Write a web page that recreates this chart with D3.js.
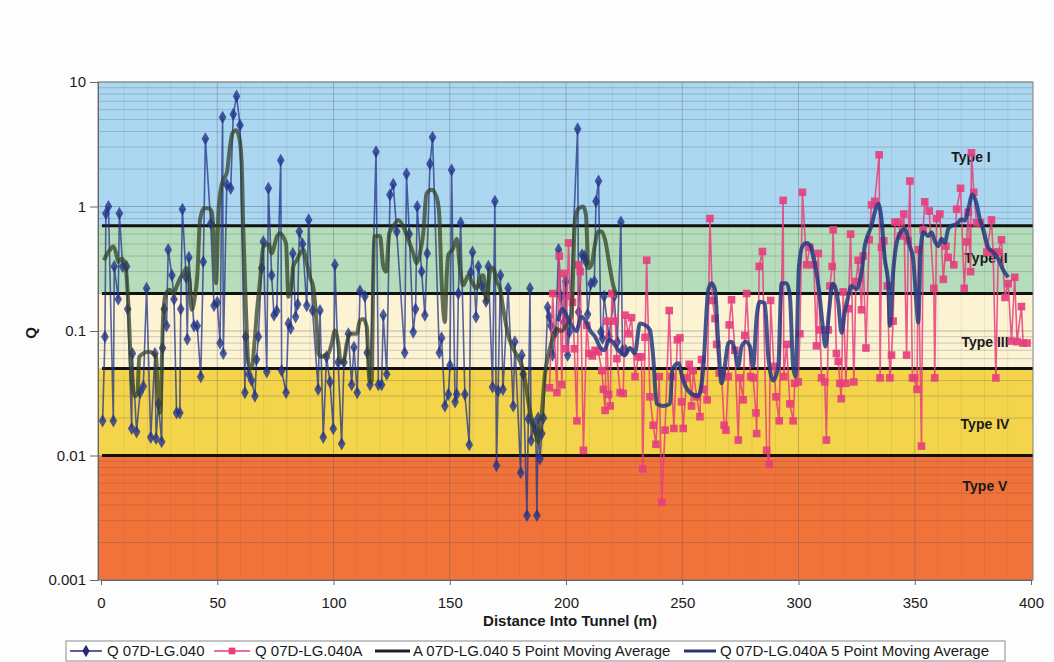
<!DOCTYPE html>
<html lang="en">
<head>
<meta charset="UTF-8">
<title>Q vs Distance Into Tunnel</title>
<script src="https://d3js.org/d3.v7.min.js"></script>
<style>
  body { margin: 0; background: #fdfdfd; }
  svg text { font-family: Arial, "Liberation Sans", sans-serif; fill: #1a1a1a; }
</style>
</head>
<body>
<script>
// [distance (m), Q]
var q040 = [[0.7,0.019],[1.7,0.09],[2.1,0.88],[3.2,1.0],[5.3,0.019],[5.7,0.33],[7.4,0.18],[7.9,0.88],[9.3,0.33],[11,0.33],[11.5,0.15],[13.2,0.0165],[13.5,0.066],[15.3,0.0155],[16.8,0.032],[18.2,0.036],[19.6,0.22],[21.4,0.014],[23.2,0.066],[23.7,0.0137],[24.7,0.026],[26.1,0.0129],[26.5,0.073],[27.2,0.15],[28.2,0.11],[28.9,0.45],[30.5,0.28],[31.4,0.18],[32.5,0.022],[33.9,0.022],[34.3,0.15],[35,0.95],[36.6,0.27],[37.1,0.086],[37.8,0.39],[40,0.11],[41.4,0.11],[42.9,0.043],[44,0.36],[44.9,3.5],[47.2,0.73],[48.6,0.16],[50,0.17],[51.2,0.08],[52.3,5.2],[52.6,0.066],[54.1,1.5],[55.8,1.4],[56.9,5.5],[58.3,7.7],[59.8,4.5],[61.9,0.032],[62.2,0.09],[63.6,0.045],[64.8,0.04],[66.2,0.03],[66.9,0.059],[67.7,0.09],[69.1,0.32],[69.8,0.52],[71.3,0.047],[72,1.4],[73.4,0.28],[74.4,0.134],[75.6,0.145],[77.3,2.35],[77.7,0.048],[79.6,0.032],[80.6,0.115],[81.6,0.105],[82.5,0.42],[83.7,0.13],[84.6,0.164],[85.3,0.63],[86.7,0.5],[88.5,0.16],[89.3,0.78],[91,0.146],[93.4,0.034],[94.2,0.146],[95.6,0.014],[97,0.062],[98.5,0.039],[99.9,0.0164],[100.6,0.34],[102,0.056],[103.5,0.0124],[104.5,0.056],[106.4,0.095],[107.8,0.037],[108.8,0.074],[110.2,0.032],[111.4,0.21],[113.5,0.19],[114.5,0.067],[115.7,0.037],[118.3,2.75],[119.3,0.037],[120.7,0.037],[121.4,0.134],[122.9,0.045],[124.3,1.24],[125.7,1.51],[127.2,0.63],[130.6,0.067],[131.4,1.83],[132.6,0.6],[134.3,0.098],[135.3,0.15],[136,1.0],[137.9,0.3],[139.3,0.134],[140.3,0.42],[141.5,2.2],[142.6,3.6],[145.5,0.067],[146.5,0.088],[147.9,0.025],[149.4,0.031],[150.1,0.053],[150.8,1.96],[152.3,0.027],[153,0.031],[153.7,0.2],[154.7,0.74],[156.5,0.031],[158.4,0.0122],[159,0.295],[159.8,0.43],[161.3,0.13],[162.3,0.33],[163.7,0.23],[165.6,0.173],[166.6,0.33],[168.4,0.0355],[169.4,1.1],[170.1,0.0083],[170.8,0.033],[171.8,0.28],[172.9,0.034],[175.1,0.22],[177.3,0.025],[178,0.082],[180.5,0.0073],[181,0.064],[181.6,0.045],[183.2,0.0033],[183.8,0.0197],[184.5,0.22],[185,0.0132],[186.2,0.018],[187,0.016],[187.5,0.0033],[188,0.02],[188.8,0.0094],[189.6,0.015],[190.3,0.02],[192.1,0.155],[192.8,0.13],[193.5,0.11],[194.2,0.064],[195.6,0.098],[196.8,0.45],[197.8,0.19],[199.2,0.118],[199.9,0.25],[200.7,0.064],[201.4,0.098],[205,4.2],[205.4,0.142],[206.9,0.41],[207.9,0.4],[208.6,0.36],[209.3,0.136],[210.7,0.24],[212.2,0.25],[212.9,1.1],[214,1.6],[215,0.098],[215.7,0.087],[216.4,0.19],[218.5,0.09],[220.7,0.19],[222.1,0.082],[223.6,0.75],[224.3,0.07],[225.7,0.07]];

var q040A = [[192.9,0.035],[194.3,0.2],[196.1,0.032],[197.1,0.4],[198.2,0.037],[199,0.29],[199.9,0.072],[201.1,0.51],[201.8,0.19],[202.8,0.17],[203.6,0.072],[204.7,0.019],[205.4,0.34],[206.1,0.3],[207.5,0.011],[208.9,0.111],[209.9,0.066],[211.3,0.063],[212.5,0.07],[213.9,0.068],[215.4,0.048],[216.1,0.034],[216.8,0.023],[217.5,0.12],[218.3,0.031],[219,0.025],[219.7,0.2],[221.2,0.12],[221.9,0.06],[223.3,0.032],[224.6,0.0315],[225.4,0.134],[226.8,0.095],[228.2,0.128],[229.7,0.043],[231.1,0.062],[232.5,0.062],[233,0.0078],[234,0.089],[234.7,0.37],[236.1,0.0296],[237.5,0.0175],[238.7,0.0123],[240.1,0.043],[241.2,0.0042],[242.6,0.016],[244.4,0.146],[245.4,0.043],[246.4,0.0165],[247.9,0.085],[249,0.088],[249.7,0.027],[250.4,0.0165],[251.9,0.042],[253,0.054],[254,0.025],[254.7,0.048],[256.2,0.0296],[257.6,0.0205],[258.3,0.059],[259,0.034],[260.7,0.028],[261.9,0.8],[263,0.176],[264.1,0.126],[264.8,0.078],[265.9,0.046],[266.9,0.046],[268,0.0175],[268.8,0.016],[269.8,0.043],[270.2,0.112],[271.2,0.178],[272.6,0.07],[274.1,0.0133],[274.8,0.042],[276.2,0.028],[276.9,0.092],[277.7,0.2],[279.4,0.043],[280.5,0.042],[281.7,0.022],[282,0.015],[283.1,0.33],[284.5,0.435],[286.3,0.011],[287.4,0.0085],[288,0.176],[289.4,0.052],[290.3,0.0296],[291.7,0.019],[293.4,1.12],[293.7,0.043],[294.9,0.078],[296.3,0.026],[297.7,0.019],[298.4,0.038],[299.9,0.039],[300.6,0.095],[301.7,1.3],[303.5,0.34],[304.9,0.47],[306.6,0.34],[307.7,0.076],[308.5,0.42],[309.2,0.102],[309.9,0.042],[311.3,0.039],[312,0.0133],[312.8,0.102],[313.5,0.23],[314.5,0.33],[314.9,0.65],[316.3,0.066],[317.1,0.057],[317.8,0.038],[318.4,0.0286],[319.2,0.206],[320.4,0.038],[321.4,0.151],[322.4,0.6],[323.8,0.039],[324.7,0.25],[325.7,0.37],[327.1,0.148],[327.8,0.4],[329,0.073],[330.4,0.54],[331.4,1.03],[332.8,1.1],[334.7,2.6],[335.1,0.042],[335.7,0.47],[336.7,0.53],[338.2,0.23],[339.3,0.042],[340,0.064],[340.7,0.12],[341.5,0.75],[342.9,0.75],[343.9,0.58],[345.3,0.87],[346.5,0.064],[347.2,0.53],[347.9,1.6],[349,0.042],[350,0.042],[351,0.034],[351.5,0.45],[352.9,0.0119],[353.6,0.65],[354.3,1.09],[356.2,0.92],[358.2,0.22],[358.6,0.042],[359.4,0.8],[360.8,0.87],[362.3,0.26],[363.4,0.48],[364.4,0.39],[366.8,0.34],[368,0.95],[369.7,1.4],[371.3,0.22],[372.3,0.52],[373,0.9],[374,0.3],[374.4,2.7],[375.4,1.3],[376.6,0.74],[378.3,0.74],[381,0.43],[383,0.78],[383.7,0.43],[384.9,0.042],[385.9,0.43],[387.3,0.54],[388.8,0.186],[390.2,0.24],[391.6,0.083],[393,0.27],[394,0.082],[395.9,0.157],[396.6,0.08],[398.3,0.08]];

var avg040 = [[1.3,0.37],[2.4,0.41],[3.9,0.45],[5.3,0.48],[6.5,0.42],[7.4,0.36],[8.9,0.38],[10.3,0.35],[11.8,0.157],[12.5,0.075],[13.2,0.04],[14.6,0.03],[15.6,0.031],[16.5,0.062],[18.2,0.066],[20.4,0.068],[22.5,0.066],[23.7,0.062],[24.2,0.04],[25.4,0.022],[26.8,0.139],[27.9,0.2],[29.7,0.214],[31.1,0.2],[32.5,0.227],[33.7,0.258],[35.4,0.29],[36.8,0.32],[38,0.258],[39,0.148],[40.4,0.189],[41.4,0.274],[42.6,0.78],[44.3,0.97],[46.2,0.97],[47.6,0.91],[48.3,0.69],[49.5,0.242],[50.5,0.88],[51.5,1.36],[52.6,1.64],[54.1,1.86],[55.5,3.04],[56.6,3.9],[58.1,4.1],[59.5,3.55],[60.5,2.23],[61.2,0.65],[62.4,0.139],[63.4,0.055],[64.8,0.05],[66,0.08],[67,0.138],[68.4,0.256],[69.8,0.474],[72,0.5],[73.4,0.42],[75.6,0.57],[77,0.61],[78.4,0.57],[79.6,0.5],[80.6,0.188],[82,0.24],[82.7,0.33],[84.2,0.37],[85.6,0.42],[87,0.45],[88.5,0.35],[89.9,0.27],[91.3,0.226],[92.8,0.108],[93.5,0.066],[94.9,0.062],[96.3,0.064],[97.8,0.066],[99.2,0.079],[100.6,0.101],[102.1,0.079],[103.1,0.056],[104.5,0.058],[105.7,0.079],[107.1,0.095],[108.5,0.095],[110,0.095],[111.4,0.122],[112.8,0.125],[114.3,0.108],[115.4,0.04],[116.4,0.039],[117.4,0.57],[118.6,0.58],[120,0.58],[121.4,0.33],[122.6,0.3],[124,0.61],[125.7,0.69],[127.9,0.78],[130,0.69],[132.2,0.54],[134.3,0.42],[135.7,0.35],[137.2,0.42],[138.6,0.61],[140,1.27],[142.2,1.36],[144.3,1.2],[145.4,0.9],[146.5,0.25],[147.9,0.118],[148.7,0.28],[149.4,0.41],[151.5,0.46],[153,0.55],[154.4,0.32],[155.8,0.233],[158,0.28],[159.4,0.25],[161.6,0.22],[163,0.264],[164.4,0.28],[165.9,0.171],[167.3,0.3],[168.7,0.32],[170.2,0.25],[171.6,0.22],[173,0.151],[175.2,0.092],[177.3,0.072],[178.8,0.064],[180.9,0.053],[182.3,0.041],[183.8,0.027],[185.2,0.0197],[186.6,0.0154],[188.1,0.0128],[189.5,0.021],[190.9,0.044],[192.4,0.064],[193.8,0.082],[195.9,0.104],[198.1,0.1],[200.3,0.111],[202.4,0.134],[203.8,0.75],[205.3,0.96],[207.4,1.0],[208.6,0.85],[209.6,0.32],[211,0.34],[212.4,0.49],[213.9,0.63],[215.3,0.63],[216.7,0.55],[218.9,0.32],[220.3,0.233],[221.7,0.194]];

var avg040A = [[196.5,0.12],[198.5,0.15],[200.5,0.13],[202.5,0.11],[204.5,0.1],[206.5,0.13],[208.5,0.12],[210.5,0.1],[212.5,0.09],[214.5,0.075],[216.5,0.07],[218.5,0.085],[220.5,0.08],[222.5,0.07],[225.3,0.064],[227.5,0.073],[229.6,0.066],[231.8,0.115],[233.9,0.112],[236.1,0.102],[237.5,0.062],[239,0.026],[241.8,0.025],[244.7,0.026],[245.8,0.049],[248.3,0.055],[250.4,0.04],[253.3,0.032],[256.9,0.03],[259,0.049],[261.2,0.214],[262.6,0.242],[264.1,0.214],[265.5,0.08],[266.9,0.038],[268.3,0.052],[269.8,0.08],[271.2,0.082],[272.6,0.07],[274.1,0.052],[275.5,0.075],[277.4,0.082],[279.1,0.075],[280.5,0.052],[282,0.13],[283.4,0.172],[285.5,0.167],[287,0.062],[289.1,0.04],[291.3,0.052],[292.7,0.242],[294.9,0.242],[296.3,0.19],[297.7,0.052],[298.7,0.043],[300.2,0.33],[301.7,0.48],[303.4,0.51],[305.2,0.48],[307,0.35],[308.8,0.214],[310.3,0.115],[311.6,0.075],[313.2,0.148],[314.6,0.24],[315.6,0.23],[317.1,0.169],[318.5,0.097],[319.9,0.141],[321.4,0.19],[322.8,0.23],[325,0.217],[327.1,0.295],[328.5,0.48],[330,0.6],[331.4,0.7],[332.8,0.9],[334.3,1.05],[335.7,0.79],[337.1,0.38],[338.6,0.245],[339.3,0.11],[340.7,0.295],[342.2,0.51],[343.9,0.62],[345.7,0.66],[347.9,0.48],[349.3,0.38],[350.8,0.159],[351.5,0.117],[352.5,0.43],[353.6,0.62],[355.8,0.58],[357.2,0.62],[358.6,0.53],[360.1,0.48],[361.5,0.55],[362.9,0.51],[364.4,0.66],[365.8,0.7],[368,0.72],[370.1,0.79],[371.5,0.77],[373,0.95],[374.8,1.25],[376.6,1.05],[378,0.79],[379.4,0.66],[381.6,0.47],[383.7,0.43],[385.9,0.38],[388,0.31],[390.2,0.27]];

// rock mass classes (Q boundaries)
var bandLimits = [0.001, 0.01, 0.05, 0.2, 0.7, 10];
var bandNames = ["Type V", "Type IV", "Type III", "Type II", "Type I"];
var xTicks = [0, 50, 100, 150, 200, 250, 300, 350, 400];
var yTicks = [0.001, 0.01, 0.1, 1, 10];
var yTickLabels = ["0.001", "0.01", "0.1", "1", "10"];
var seriesNames = ["Q 07D-LG.040", "Q 07D-LG.040A", "A 07D-LG.040 5 Point Moving Average", "Q 07D-LG.040A 5 Point Moving Average"];

var w = 1054, h = 662;
var plotL = 98, plotR = 1033, plotT = 82, plotB = 580;

var svg = d3.select("body").append("svg")
    .attr("width", w)
    .attr("height", h);

var x = d3.scaleLinear().domain([0, 400]).range([101, 1031]);
var y = d3.scaleLog().domain([0.001, 10]).range([plotB, plotT]);

svg.append("clipPath").attr("id", "plotclip")
    .append("rect")
    .attr("x", plotL).attr("y", plotT)
    .attr("width", plotR - plotL).attr("height", plotB - plotT);

// coloured bands
var bandColors = ["#f2733a", "#f3d44a", "#fcf3d3", "#b5ddbb", "#acd7f1"];
var bands = d3.range(bandNames.length).map(function (i) {
    return { lo: bandLimits[i], hi: bandLimits[i + 1], name: bandNames[i], color: bandColors[i] };
});

svg.selectAll("rect.band")
    .data(bands)
    .enter()
    .append("rect")
    .attr("class", "band")
    .attr("x", plotL)
    .attr("width", plotR - plotL)
    .attr("y", function (d) { return y(d.hi); })
    .attr("height", function (d) { return y(d.lo) - y(d.hi); })
    .attr("fill", function (d) { return d.color; });

// gridlines
var minorY = [];
[0.001, 0.01, 0.1, 1].forEach(function (dec) {
    for (var k = 2; k <= 9; k++) minorY.push(dec * k);
});
var grid = svg.append("g");
grid.selectAll("line.hminor")
    .data(minorY)
    .enter()
    .append("line")
    .attr("x1", plotL).attr("x2", plotR)
    .attr("y1", function (d) { return y(d); })
    .attr("y2", function (d) { return y(d); })
    .attr("stroke", "#4a4a5a")
    .attr("stroke-opacity", 0.25)
    .attr("stroke-width", 1);
grid.selectAll("line.hmajor")
    .data(yTicks)
    .enter()
    .append("line")
    .attr("x1", plotL).attr("x2", plotR)
    .attr("y1", function (d) { return y(d); })
    .attr("y2", function (d) { return y(d); })
    .attr("stroke", "#3a3a4a")
    .attr("stroke-opacity", 0.35)
    .attr("stroke-width", 1);
grid.selectAll("line.vminor")
    .data(d3.range(10, 400, 10))
    .enter()
    .append("line")
    .attr("x1", function (d) { return x(d); })
    .attr("x2", function (d) { return x(d); })
    .attr("y1", plotT).attr("y2", plotB)
    .attr("stroke", "#4a4a5a")
    .attr("stroke-opacity", function (d) { return d % 50 === 0 ? 0.3 : 0.1; })
    .attr("stroke-width", 1);

// class boundary lines
svg.selectAll("line.limit")
    .data(bandLimits.slice(1, 5))
    .enter()
    .append("line")
    .attr("x1", 102).attr("x2", plotR)
    .attr("y1", function (d) { return y(d); })
    .attr("y2", function (d) { return y(d); })
    .attr("stroke", "#111")
    .attr("stroke-width", 3);

// class labels
var labelPos = [[985, 486], [985, 424], [985, 342], [986, 258], [971, 157]];
svg.selectAll("text.band")
    .data(bands)
    .enter()
    .append("text")
    .attr("x", function (d, i) { return labelPos[i][0]; })
    .attr("y", function (d, i) { return labelPos[i][1]; })
    .attr("dy", "0.35em")
    .attr("text-anchor", "middle")
    .attr("font-size", "14px")
    .attr("font-weight", "bold")
    .text(function (d) { return d.name; });

// series
var plot = svg.append("g").attr("clip-path", "url(#plotclip)");

var line = d3.line()
    .x(function (d) { return x(d[0]); })
    .y(function (d) { return y(d[1]); });
var smooth = d3.line()
    .curve(d3.curveMonotoneX)
    .x(function (d) { return x(d[0]); })
    .y(function (d) { return y(d[1]); });

var blue = "#22338a", pink = "#e63e7c", olive = "#33422a", navy = "#23397f";

plot.append("path")
    .datum(q040)
    .attr("d", line)
    .attr("fill", "none")
    .attr("stroke", blue)
    .attr("stroke-opacity", 0.75)
    .attr("stroke-width", 1.6);
plot.selectAll("path.dia")
    .data(q040)
    .enter()
    .append("path")
    .attr("d", d3.symbol().type(d3.symbolDiamond).size(50))
    .attr("transform", function (d) { return "translate(" + x(d[0]) + "," + y(d[1]) + ")"; })
    .attr("fill", blue)
    .attr("fill-opacity", 0.8);

plot.append("path")
    .datum(q040A)
    .attr("d", line)
    .attr("fill", "none")
    .attr("stroke", pink)
    .attr("stroke-opacity", 0.85)
    .attr("stroke-width", 1.6);
plot.selectAll("path.sq")
    .data(q040A)
    .enter()
    .append("path")
    .attr("d", d3.symbol().type(d3.symbolSquare).size(58))
    .attr("transform", function (d) { return "translate(" + x(d[0]) + "," + y(d[1]) + ")"; })
    .attr("fill", pink)
    .attr("fill-opacity", 0.9);

plot.append("path")
    .datum(avg040)
    .attr("d", smooth)
    .attr("fill", "none")
    .attr("stroke", olive)
    .attr("stroke-opacity", 0.75)
    .attr("stroke-width", 4);

plot.append("path")
    .datum(avg040A)
    .attr("d", smooth)
    .attr("fill", "none")
    .attr("stroke", navy)
    .attr("stroke-opacity", 0.85)
    .attr("stroke-width", 4);

// frame
svg.append("rect")
    .attr("x", plotL).attr("y", plotT)
    .attr("width", plotR - plotL).attr("height", plotB - plotT)
    .attr("fill", "none")
    .attr("stroke", "#808080")
    .attr("stroke-width", 1);

// axes
var yAxis = d3.axisLeft(y)
    .tickValues(yTicks)
    .tickFormat(function (d, i) { return yTickLabels[i]; })
    .tickSize(8)
    .tickPadding(4);
var gy = svg.append("g").attr("transform", "translate(" + plotL + ",0)").call(yAxis);
gy.select(".domain").attr("stroke", "#666");
gy.selectAll(".tick line").attr("stroke", "#666");
gy.selectAll("text").attr("font-size", "15px").attr("font-family", "Arial, 'Liberation Sans', sans-serif").attr("fill", "#1a1a1a");

var xAxis = d3.axisBottom(x)
    .tickValues(xTicks)
    .tickSize(5)
    .tickPadding(12);
var gx = svg.append("g").attr("transform", "translate(0," + plotB + ")").call(xAxis);
gx.select(".domain").attr("stroke", "#666");
gx.selectAll(".tick line").attr("stroke", "#666");
gx.selectAll("text").attr("font-size", "15px").attr("font-family", "Arial, 'Liberation Sans', sans-serif").attr("fill", "#1a1a1a");

svg.append("text")
    .attr("x", 570).attr("y", 626)
    .attr("text-anchor", "middle")
    .attr("font-size", "15px")
    .attr("font-weight", "bold")
    .text("Distance Into Tunnel (m)");

svg.append("text")
    .attr("transform", "translate(36,333) rotate(-90)")
    .attr("text-anchor", "middle")
    .attr("font-size", "15px")
    .attr("font-weight", "bold")
    .text("Q");

// legend
var legend = svg.append("g");
legend.append("rect")
    .attr("x", 66).attr("y", 641)
    .attr("width", 939).attr("height", 20)
    .attr("fill", "#fff")
    .attr("stroke", "#8a8a8a");

var legendItems = [
    { x1: 70, x2: 102, tx: 107, color: "#2a2a72", width: 1.5, symbol: d3.symbolDiamond },
    { x1: 214, x2: 250, tx: 255, color: pink, width: 1.5, symbol: d3.symbolSquare },
    { x1: 375, x2: 410, tx: 413, color: "#222", width: 3, symbol: null },
    { x1: 684, x2: 716, tx: 720, color: "#2a3470", width: 3, symbol: null }
];
legendItems.forEach(function (it, i) {
    legend.append("line")
        .attr("x1", it.x1).attr("x2", it.x2)
        .attr("y1", 651).attr("y2", 651)
        .attr("stroke", it.color)
        .attr("stroke-width", it.width);
    if (it.symbol) {
        legend.append("path")
            .attr("d", d3.symbol().type(it.symbol).size(45))
            .attr("transform", "translate(" + ((it.x1 + it.x2) / 2) + ",651)")
            .attr("fill", it.color);
    }
    legend.append("text")
        .attr("x", it.tx).attr("y", 651)
        .attr("dy", "0.35em")
        .attr("font-size", "15px")
        .text(seriesNames[i]);
});
</script>
</body>
</html>
